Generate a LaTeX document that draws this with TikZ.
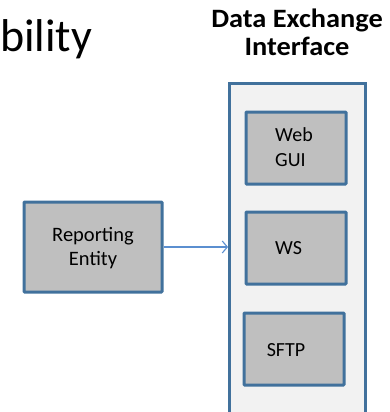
\documentclass[tikz,border=0pt]{standalone}
\usepackage{fontspec}
\setmainfont{Carlito}
\usetikzlibrary{arrows.meta}
\definecolor{bordblue}{HTML}{41719C}
\definecolor{arrblue}{HTML}{5B8FD0}
\definecolor{boxgray}{HTML}{BFBFBF}
\definecolor{panelgray}{HTML}{F2F2F2}
\tikzset{
  box/.style={draw=bordblue, line width=3pt, fill=boxgray, rounded corners=0.8pt, inner sep=0pt},
  panel/.style={draw=bordblue, line width=2.6pt, fill=panelgray, inner sep=0pt},
  txt/.style={font=\fontsize{20}{25}\selectfont, inner sep=0pt, align=left},
  ctxt/.style={font=\fontsize{20.5}{24}\selectfont, inner sep=0pt, align=center},
  conn/.style={draw=arrblue, line width=1.1pt, -{Straight Barb[length=5pt,width=12pt,line width=1.1pt]}}
}
\begin{document}
\begin{tikzpicture}[x=1pt,y=-1pt]
\useasboundingbox (0,0) rectangle (389,412);
% panel
\node[panel, minimum width=136pt, minimum height=340pt, anchor=north west] (panel) at (228,82) {};
% title
\node[font=\bfseries\fontsize{26.5}{28}\selectfont, align=center, inner sep=0pt, anchor=base, xscale=1.07] (title) at (297,56) {Data Exchange\\Interface};
% partial title
\node[font=\fontsize{46}{50}\selectfont, inner sep=0pt, anchor=base east] (bility) at (92.5,52) {bility};
% inner boxes
\node[box, minimum width=100pt, minimum height=72pt] (web) at (296,148) {};
\node[box, minimum width=100pt, minimum height=72pt] (ws) at (296,248) {};
\node[box, minimum width=100pt, minimum height=72pt] (sftp) at (294,349) {};
\node[txt] (webt) at (294,147) {Web\\GUI};
\node[txt] (wst) at (288.5,248) {WS};
\node[txt] (sftpt) at (286,350) {SFTP};
% reporting entity
\node[box, minimum width=138pt, minimum height=90pt] (rep) at (93,247) {};
\node[ctxt] (rept) at (93,248) {Reporting\\Entity};
% connector
\draw[conn] (rep.east) -- (rep.east -| panel.west);
\end{tikzpicture}
\end{document}
